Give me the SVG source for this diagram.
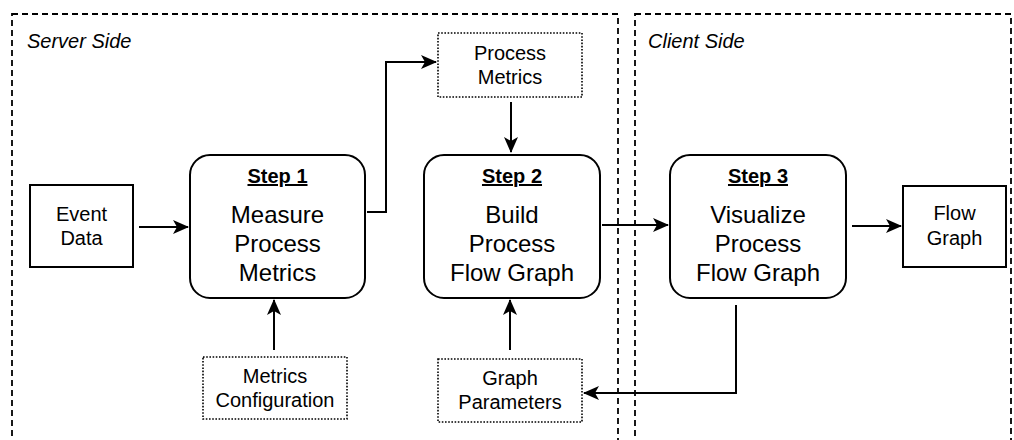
<svg xmlns="http://www.w3.org/2000/svg" width="1014" height="440" viewBox="0 0 1014 440">
<style>
.zone{fill:none;stroke:#000;stroke-width:1.8;stroke-dasharray:6 4}
.zl{font-family:"Liberation Sans",Arial,sans-serif;font-size:20px;font-style:italic;fill:#000}
.box{fill:#fff;stroke:#000;stroke-width:2}
.dot{fill:#fff;stroke:#000;stroke-width:1.6;stroke-dasharray:1.6 1.6}
.t{font-family:"Liberation Sans",Arial,sans-serif;font-size:20px;fill:#000;text-anchor:middle}
.tb{font-family:"Liberation Sans",Arial,sans-serif;font-size:24px;fill:#000;text-anchor:middle}
.st{font-family:"Liberation Sans",Arial,sans-serif;font-size:20px;font-weight:bold;fill:#000;text-anchor:middle;text-decoration:underline}
.c{fill:none;stroke:#000;stroke-width:2;marker-end:url(#ah)}
</style>
<defs>
<marker id="ah" viewBox="0 0 16 14" refX="15" refY="7" markerWidth="16" markerHeight="14" markerUnits="userSpaceOnUse" orient="auto">
<path d="M0,0 L16,7 L0,14 L4,7 Z" fill="#000"/>
</marker>
</defs>
<rect width="1014" height="440" fill="#fff"/>
<g id="server-side">
<rect class="zone" x="12" y="14" width="606" height="440"/>
<text class="zl" x="27" y="48">Server Side</text>
</g>
<g id="client-side">
<rect class="zone" x="635" y="14" width="376" height="440"/>
<text class="zl" x="648" y="48">Client Side</text>
</g>
<g id="connectors">
<path class="c" d="M139,227 H188"/>
<path class="c" d="M367,212 H386 V62 H436"/>
<path class="c" d="M511,102 V152"/>
<path class="c" d="M274,350 V300"/>
<path class="c" d="M510,350 V300"/>
<path class="c" d="M602,225 H668"/>
<path class="c" d="M852,226 H901"/>
<path class="c" d="M736,305 V393 H584"/>
</g>
<g id="event-data">
<rect class="box" x="30" y="185" width="103" height="82"/>
<text class="t" x="81.5" y="221">Event</text>
<text class="t" x="81.5" y="245">Data</text>
</g>
<g id="step1">
<rect class="box" x="190" y="155" width="175" height="143" rx="20"/>
<text class="st" x="277.5" y="183">Step 1</text>
<text class="tb" x="277.5" y="223">Measure</text>
<text class="tb" x="277.5" y="252">Process</text>
<text class="tb" x="277.5" y="281">Metrics</text>
</g>
<g id="process-metrics">
<rect class="dot" x="438" y="33" width="144" height="64"/>
<text class="t" x="510" y="60">Process</text>
<text class="t" x="510" y="84">Metrics</text>
</g>
<g id="step2">
<rect class="box" x="424" y="155" width="176" height="143" rx="20"/>
<text class="st" x="512" y="183">Step 2</text>
<text class="tb" x="512" y="223">Build</text>
<text class="tb" x="512" y="252">Process</text>
<text class="tb" x="512" y="281">Flow Graph</text>
</g>
<g id="step3">
<rect class="box" x="670" y="155" width="176" height="143" rx="20"/>
<text class="st" x="758" y="183">Step 3</text>
<text class="tb" x="758" y="223">Visualize</text>
<text class="tb" x="758" y="252">Process</text>
<text class="tb" x="758" y="281">Flow Graph</text>
</g>
<g id="flow-graph">
<rect class="box" x="903" y="186" width="103" height="81"/>
<text class="t" x="954.5" y="220">Flow</text>
<text class="t" x="954.5" y="245">Graph</text>
</g>
<g id="metrics-configuration">
<rect class="dot" x="203" y="357" width="144" height="62"/>
<text class="t" x="275" y="383">Metrics</text>
<text class="t" x="275" y="407">Configuration</text>
</g>
<g id="graph-parameters">
<rect class="dot" x="438" y="359" width="144" height="63"/>
<text class="t" x="510" y="385">Graph</text>
<text class="t" x="510" y="409">Parameters</text>
</g>
</svg>
